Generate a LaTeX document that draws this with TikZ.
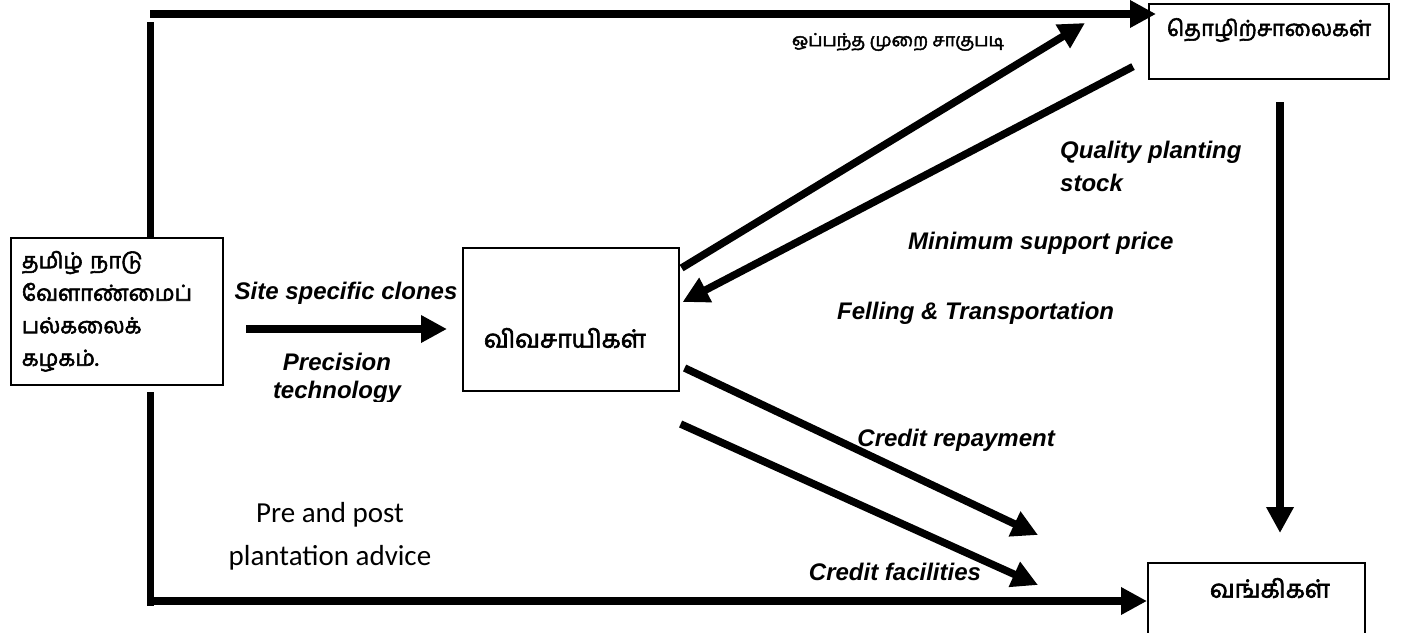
\documentclass[tikz,border=0pt]{standalone}
\usepackage{fontspec}
\setmainfont{Liberation Sans}
\newfontfamily\tamil[Script=Tamil,AutoFakeBold=2.5]{Hind Madurai}
\newfontfamily\calfont{Carlito}
\usetikzlibrary{arrows.meta,calc}
\begin{document}
\begin{tikzpicture}[x=1pt,y=-1pt,
  box/.style={draw,line width=1.6pt,fill=white,inner sep=0pt},
  flow/.style={line width=7.5pt},
  arr/.style={line width=7.5pt,-{Triangle[length=26pt,width=26pt]}},
  lbl/.style={font=\fontsize{24}{28}\selectfont\bfseries\itshape,inner sep=0pt},
  tam/.style={font=\tamil\bfseries\fontsize{25}{33}\selectfont,inner sep=0pt},
  adv/.style={font=\calfont\fontsize{29}{42}\selectfont,inner sep=0pt,align=center}]
\useasboundingbox (0,0) rectangle (1407,632);
\clip (0,0) rectangle (1407,632);
% boxes
\node[box,minimum width=212pt,minimum height=147pt,anchor=north west,
      text width=190pt,inner xsep=11pt,align=left,
      font=\tamil\bfseries\fontsize{22}{32.5}\selectfont] (tn) at (10,237)
      {தமிழ் நாடு\\வேளாண்மைப்\\பல்கலைக்\\கழகம்.};
\node[box,minimum width=216pt,minimum height=143pt,anchor=north west] (far) at (462,247) {};
\node[tam] (fartext) at (565,338) {விவசாயிகள்};
\node[box,minimum width=240pt,minimum height=75pt,anchor=north west] (fac) at (1148,3) {};
\node[tam,font=\tamil\bfseries\fontsize{22}{33}\selectfont] (factext) at (1269,30) {தொழிற்சாலைகள்};
\node[box,minimum width=217pt,minimum height=90pt,anchor=north west] (bank) at (1147,562) {};
\node[tam] (banktext) at (1270,588) {வங்கிகள்};
% coordinates
\coordinate (tl) at (150.5,22);
\coordinate (htl) at (150,14);
\coordinate (htr) at (1156,14);
\coordinate (bl) at (150.5,606);
\coordinate (hbl) at (150,601);
\coordinate (lvtop) at (150.5,237);
\coordinate (lvbot) at (150.5,392);
\coordinate (s1) at (246,329);
\coordinate (s2) at (447,329);
\coordinate (rv1) at (1280,102);
\coordinate (rv2) at (1280,533);
\coordinate (upend) at (1085,23);
\coordinate (lr1) at (1038,535);
\coordinate (lr2) at (1038,585);
% left frame
\draw[flow] (tl) -- (lvtop);
\draw[flow] (lvbot) -- (bl);
\draw[arr] (htl) -- (htr);
\draw[arr] (hbl) -- (bank.west |- hbl);
\draw[arr] (s1) -- (s2);
% diagonals
\draw[arr] ($(far.north east)+(2,21)$) -- (upend);
\draw[arr] ($(fac.south west)+(-15,-13)$) -- ($(far.north east)+(3,55)$);
\draw[arr] ($(far.north east)+(5,121)$) -- (lr1);
\draw[arr] ($(far.north east)+(1,177)$) -- (lr2);
\draw[arr] (rv1) -- (rv2);
% labels
\node[font=\tamil\bfseries\fontsize{18}{20}\selectfont,inner sep=0pt] (contract) at (898,42) {ஒப்பந்த முறை சாகுபடி};
\node[lbl,anchor=west] (q1) at (1060,152) {Quality planting};
\node[lbl,anchor=west] (q2) at (1060,183) {stock};
\node[lbl,anchor=west] (msp) at (908,243) {Minimum support price};
\node[lbl,anchor=west] (fell) at (837,313) {Felling \& Transportation};
\node[lbl,anchor=east] (crep) at (1055,440) {Credit repayment};
\node[lbl] (cfac) at (895,572) {Credit facilities};
\node[lbl] (site) at (346,293) {Site specific clones};
\node[lbl] (prec1) at (337,362) {Precision};
\begin{scope}
\clip (200,370) rectangle (480,401);
\node[lbl] (prec2) at (337,392) {technology};
\end{scope}
\node[adv] (adv1) at (330,515) {Pre and post};
\node[adv] (adv2) at (330,558) {plantation advice};
\end{tikzpicture}
\end{document}
